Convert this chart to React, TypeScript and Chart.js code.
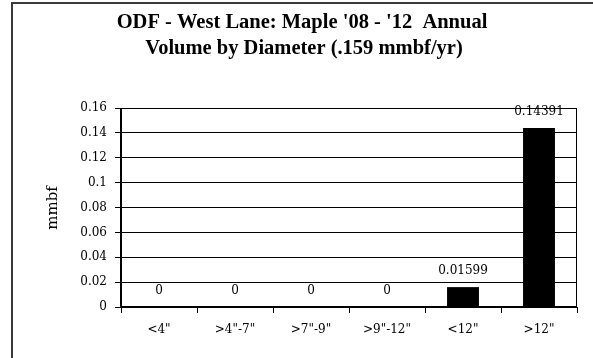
import React, { useEffect, useRef } from "react";
import { Chart, registerables } from "chart.js";

Chart.register(...registerables);

const categories = ['<4"', '>4"-7"', '>7"-9"', '>9"-12"', '<12"', '>12"'];
const volumes = [0, 0, 0, 0, 0.01599, 0.14391];
const valueLabels = ["0", "0", "0", "0", "0.01599", "0.14391"];
const titleLines = ["ODF - West Lane: Maple '08 - '12  Annual", "Volume by Diameter (.159 mmbf/yr)"];
const yAxisTitle = "mmbf";
const yMin = 0;
const yMax = 0.16;
const yStep = 0.02;

const SERIF = "'Liberation Serif', 'Times New Roman', serif";
const LABEL_FONT = "'DejaVu Serif', serif";

const decorPlugin = {
  id: "decor",
  beforeDraw(chart: any) {
    const ctx = chart.ctx;
    ctx.save();
    ctx.fillStyle = "#ffffff";
    ctx.fillRect(0, 0, chart.width, chart.height);
    ctx.strokeStyle = "#3a3a3a";
    ctx.lineWidth = 2;
    ctx.strokeRect(12, 3, chart.width + 20, chart.height + 20);
    ctx.fillStyle = "#000";
    ctx.font = "bold 20.5px " + SERIF;
    ctx.textAlign = "center";
    ctx.textBaseline = "middle";
    ctx.fillText(titleLines[0], 302, 23);
    ctx.fillText(titleLines[1], 304, 49);
    ctx.font = "15px " + LABEL_FONT;
    ctx.translate(53, 208);
    ctx.rotate(-Math.PI / 2);
    ctx.fillText(yAxisTitle, 0, 0);
    ctx.restore();
  },
  afterDatasetsDraw(chart: any) {
    const ctx = chart.ctx;
    const { left, right, top, bottom } = chart.chartArea;
    ctx.save();
    ctx.strokeStyle = "#000";
    ctx.lineWidth = 1;
    ctx.beginPath();
    ctx.moveTo(left, top + 0.5);
    ctx.lineTo(right - 0.5, top + 0.5);
    ctx.lineTo(right - 0.5, bottom);
    ctx.stroke();
    ctx.lineWidth = 2;
    ctx.beginPath();
    ctx.moveTo(left, top);
    ctx.lineTo(left, bottom);
    ctx.lineTo(right, bottom);
    ctx.stroke();
    const meta = chart.getDatasetMeta(0);
    ctx.fillStyle = "#000";
    ctx.font = "12px " + LABEL_FONT;
    ctx.textAlign = "center";
    ctx.textBaseline = "middle";
    meta.data.forEach((bar: any, i: number) => {
      ctx.fillText(valueLabels[i], bar.x, bar.y - 16);
    });
    ctx.restore();
  },
};

export default function App() {
  const ref = useRef<HTMLCanvasElement>(null);
  useEffect(() => {
    if (!ref.current) return;
    const chart = new Chart(ref.current, {
      type: "bar",
      data: {
        labels: categories,
        datasets: [
          {
            data: volumes,
            backgroundColor: "#000000",
            borderWidth: 0,
            barPercentage: 0.42,
            categoryPercentage: 1,
          },
        ],
      },
      options: {
        responsive: false,
        animation: false,
        layout: { padding: { left: 0, top: 108, right: 16, bottom: 0 } },
        plugins: {
          legend: { display: false },
          title: { display: false },
          tooltip: { enabled: false },
        },
        scales: {
          x: {
            offset: true,
            grid: {
              offset: true,
              drawOnChartArea: false,
              drawTicks: true,
              tickLength: 6,
              color: "#000",
              lineWidth: 1,
            },
            border: { display: false },
            ticks: {
              color: "#000",
              font: { family: LABEL_FONT, size: 12 },
              padding: 10,
              maxRotation: 0,
              autoSkip: false,
            },
            afterFit: (s: any) => {
              s.height = 51;
            },
          },
          y: {
            min: yMin,
            max: yMax,
            grid: {
              color: "#000",
              lineWidth: 1,
              tickLength: 6,
            },
            border: { display: false },
            ticks: {
              stepSize: yStep,
              color: "#000",
              font: { family: LABEL_FONT, size: 12 },
              padding: 8,
              callback: (v: any) => String(Math.round(Number(v) * 100) / 100),
            },
            afterFit: (s: any) => {
              s.width = 121;
            },
          },
        },
      },
      plugins: [decorPlugin],
    });
    return () => chart.destroy();
  }, []);
  return (
    <div style={{ position: "absolute", left: 0, top: 0, width: 593, height: 358 }}>
      <canvas ref={ref} width={593} height={358} style={{ display: "block" }} />
    </div>
  );
}
